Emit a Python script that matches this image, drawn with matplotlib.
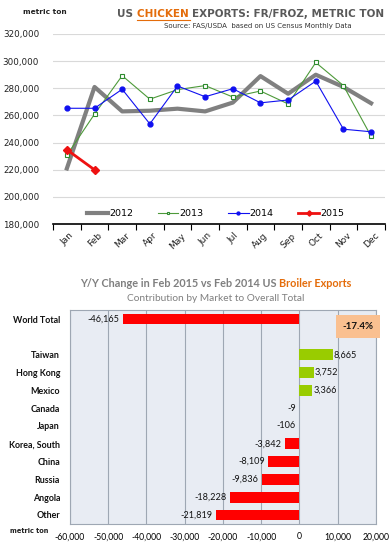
import matplotlib
import matplotlib.pyplot as plt
from matplotlib.ticker import FuncFormatter

matplotlib.use("Agg")

MONTHS = ["Jan", "Feb", "Mar", "Apr", "May", "Jun",
          "Jul", "Aug", "Sep", "Oct", "Nov", "Dec"]
Y2012 = [221000, 281000, 263000, 263500, 265000, 263000,
         269500, 289000, 276000, 290000, 281000, 269000]
Y2013 = [230800, 261000, 289300, 272000, 279000, 282000,
         273600, 278000, 268500, 299000, 282000, 244700]
Y2014 = [265300, 265300, 279300, 253800, 281700, 273800,
         279700, 269300, 271400, 285300, 249900, 248000]
Y2015 = [234800, 220000]

MARKETS = ["World Total", "", "Taiwan", "Hong Kong", "Mexico", "Canada", "Japan",
           "Korea, South", "China", "Russia", "Angola", "Other"]
CHANGES = [-46165, None, 8665, 3752, 3366, -9, -106,
           -3842, -8109, -9836, -18228, -21819]
TOTAL_PCT = "-17.4%"

GRAY = "#595959"
ORANGE = "#E46C0A"
BFONT = "Lato"

fig = plt.figure(figsize=(3.9, 5.48), dpi=100)
r = fig.canvas.get_renderer()


def right_of(t):
    return t.get_window_extent(r).transformed(fig.transFigure.inverted()).x1


# ---- top: monthly exports ----
ax = fig.add_axes([0.136, 0.591, 0.851, 0.347])
x = range(len(MONTHS))
ax.plot(x, Y2012, color="#808080", lw=3, label="2012", zorder=2)
ax.plot(x, Y2013, color="#4E9A3A", lw=0.8, marker="s", ms=3.5,
        mfc="white", mec="#2E8B2E", mew=0.8, label="2013", zorder=3)
ax.plot(x, Y2014, color="#1010F0", lw=0.8, marker="o", ms=3.5,
        label="2014", zorder=4)
ax.plot(range(len(Y2015)), Y2015, color="#EE1111", lw=2, marker="D",
        ms=4.5, label="2015", zorder=5)

ax.set_xlim(-0.5, 11.5)
ax.set_ylim(180000, 320000)
ax.set_yticks(range(180000, 320001, 20000))
ax.yaxis.set_major_formatter(FuncFormatter(lambda v, p: f"{int(v):,}"))
ax.tick_params(axis="y", length=0, labelsize=6.3, labelcolor="#222222", pad=10)
ax.grid(axis="y", color="#D9D9D9", lw=0.8)
ax.set_axisbelow(True)
ax.set_xticks([i + 0.5 for i in range(-1, 12)])
ax.set_xticklabels([])
ax.set_xticks(list(x), minor=True)
ax.set_xticklabels(MONTHS, minor=True, rotation=45, fontsize=6.5,
                   color="#222222")
ax.tick_params(axis="x", which="major", length=4, color="black")
ax.tick_params(axis="x", which="minor", length=0, pad=5)
for s in ["top", "right", "left"]:
    ax.spines[s].set_visible(False)
ax.spines["bottom"].set_color("black")
ax.spines["bottom"].set_linewidth(1.2)
ax.legend(loc="center", bbox_to_anchor=(0.49, 0.054), ncol=4, frameon=False,
          fontsize=6.8, handlelength=2.2, handletextpad=0.1, columnspacing=2.6,
          markerscale=0.6)

fig.text(0.058, 0.978, "metric ton", fontsize=5.3, color="#222222",
         weight="bold", va="center")
t1 = fig.text(0.3, 0.975, "US ", fontsize=7.5, weight="bold", color=GRAY,
              va="center")
x1 = right_of(t1)
t2 = fig.text(x1, 0.975, "CHICKEN ", fontsize=7.5, weight="bold",
              color=ORANGE, va="center")
x2 = right_of(t2)
fig.add_artist(plt.Line2D([x1, x2 - 0.005], [0.963, 0.963],
                          color=ORANGE, lw=0.8))
fig.text(x2, 0.975, "EXPORTS: FR/FROZ, METRIC TON", fontsize=7.5,
         weight="bold", color=GRAY, va="center")
fig.text(0.66, 0.953, "Source: FAS/USDA  based on US Census Monthly Data",
         fontsize=5.0, color="#333333", ha="center", va="center")

# ---- bottom: Y/Y change by market ----
bx = fig.add_axes([0.179, 0.044, 0.785, 0.390])
bx.set_facecolor("#E8ECF3")
pos = list(range(len(MARKETS)))
for p, v in zip(pos, CHANGES):
    if v is None:
        continue
    c = "#99CC00" if v > 0 else "#FF0000"
    bx.barh(p, v, height=0.6, color=c, zorder=3)
    lab = f"{v:,}"
    if v > 0:
        bx.text(v + 300, p, lab, va="center", ha="left", fontsize=6.6,
                color="#111111", zorder=4, family=BFONT)
    else:
        bx.text(v - 900, p, lab, va="center", ha="right", fontsize=6.6,
                color="#111111", zorder=4, family=BFONT)
bx.set_xlim(-60000, 20000)
bx.set_ylim(len(MARKETS) - 0.5, -0.5)
bx.set_xticks(range(-60000, 20001, 10000))
bx.xaxis.set_major_formatter(FuncFormatter(lambda v, p: f"{int(v):,}"))
bx.set_yticks(pos)
bx.set_yticklabels(MARKETS, fontsize=6.4, weight="bold", color="#111111",
                   family=BFONT)
for lbl in bx.get_xticklabels():
    lbl.set_family(BFONT)
    lbl.set_fontsize(6.2)
bx.tick_params(axis="both", length=0)
bx.tick_params(axis="y", pad=7)
bx.tick_params(axis="x", pad=6)
bx.grid(axis="x", color="#9EA7B3", lw=0.8, zorder=0)
for s in bx.spines.values():
    s.set_color("#9EA7B3")
    s.set_linewidth(0.8)

fig.text(0.918, 0.404, TOTAL_PCT, fontsize=7, weight="bold", color="#111111",
         ha="center", va="center", family=BFONT,
         bbox=dict(boxstyle="square,pad=0.7", fc="#FAC090", ec="none"))

fig.text(0.026, 0.031, "metric ton", fontsize=4.8, weight="bold",
         color="#222222", va="center")

t3 = fig.text(0.205, 0.482, "Y/Y Change in Feb 2015 vs Feb 2014 US ",
              fontsize=7.8, weight="bold", color="#7F7F7F", va="center",
              family=BFONT)
fig.text(right_of(t3), 0.482, "Broiler Exports", fontsize=7.8, weight="bold",
         color=ORANGE, va="center", family=BFONT)
fig.text(0.553, 0.456, "Contribution by Market to Overall Total",
         fontsize=7.3, color="#7F7F7F", ha="center", va="center",
         family=BFONT)

fig.savefig("out.png", dpi=100)
plt.close(fig)
